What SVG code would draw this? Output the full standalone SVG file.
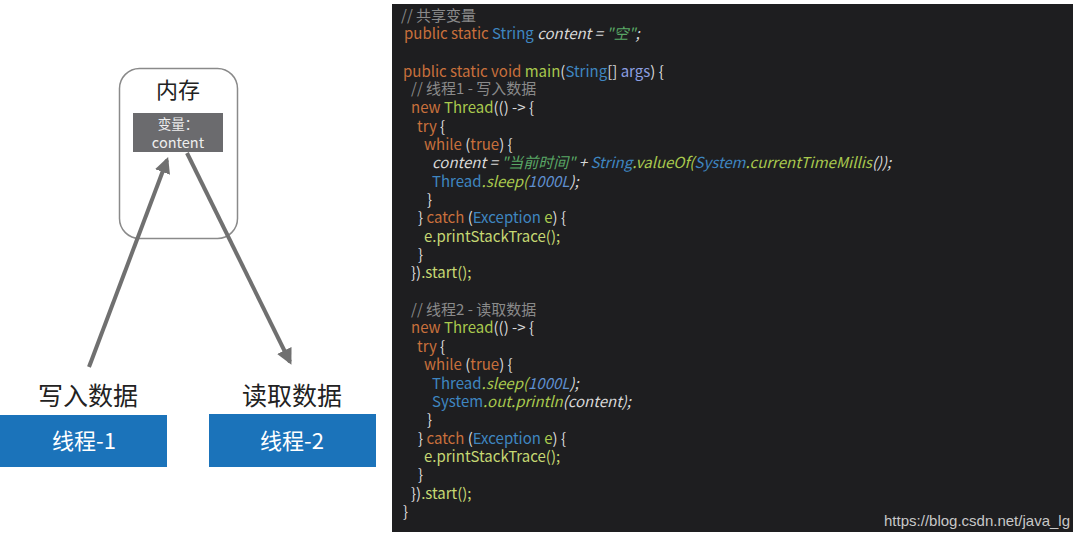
<svg xmlns="http://www.w3.org/2000/svg" width="1080" height="539" viewBox="0 0 1080 539">
<defs>
<style>
.cn{font-family:"Noto Sans CJK SC","Noto Sans",sans-serif}
.code{font-family:"Noto Sans CJK SC","Noto Sans",sans-serif;font-size:15px;fill:#d8d8d8}
.cm{fill:#8a8a8a}
.kw{fill:#c8703c}
.ty{fill:#3f86c0}
.fn{fill:#a9c94e}
.me{fill:#c6d873}
.st{fill:#5aa866}
.ar{fill:#8c9ee0}
.it{font-style:italic}
.num{fill:#5f8fcf}
</style>
<marker id="ah" viewBox="0 0 10 10" refX="8" refY="5" markerWidth="4" markerHeight="4" orient="auto" markerUnits="strokeWidth">
<path d="M0,0 L10,5 L0,10 z" fill="#707070"/>
</marker>
</defs>
<rect width="1080" height="539" fill="#ffffff"/>

<g id="memory">
<rect x="119.5" y="68.5" width="118" height="170" rx="20" fill="#ffffff" stroke="#8a8a8a" stroke-width="1.5"/>
<text x="178" y="98" class="cn" font-size="22" fill="#222" text-anchor="middle">内存</text>
</g>
<g id="variable">
<rect x="133" y="113" width="90" height="39" fill="#6b6b6e"/>
<text x="178" y="129" class="cn" font-size="13.5" fill="#eeeeee" text-anchor="middle">变量：</text>
<text x="178" y="147.5" class="cn" font-size="14.5" fill="#eeeeee" text-anchor="middle">content</text>
</g>

<g id="connectors" stroke="#707070" stroke-width="4" fill="none">
<line x1="89" y1="367" x2="167" y2="160" marker-end="url(#ah)"/>
<line x1="187" y1="153" x2="290" y2="362" marker-end="url(#ah)"/>
</g>

<g id="thread1">
<text x="88" y="405" class="cn" font-size="25" fill="#222" text-anchor="middle">写入数据</text>
<rect x="0" y="415" width="167" height="52" fill="#1b73ba"/>
<text x="84" y="449" class="cn" font-size="22" fill="#ffffff" text-anchor="middle">线程-1</text>
</g>
<g id="thread2">
<text x="292" y="405" class="cn" font-size="25" fill="#222" text-anchor="middle">读取数据</text>
<rect x="209" y="414" width="167" height="53" fill="#1b73ba"/>
<text x="292" y="449" class="cn" font-size="22" fill="#ffffff" text-anchor="middle">线程-2</text>
</g>

<g id="code">
<rect x="392" y="4" width="681" height="528" fill="#1e1e20"/>
<text class="code cm" x="401" y="21">// 共享变量</text>
<text class="code" x="404" y="39"><tspan class="kw">public static </tspan><tspan class="ty">String </tspan><tspan class="it">content = </tspan><tspan class="st it">"空"</tspan><tspan class="it">;</tspan></text>
<text class="code" x="403" y="77"><tspan class="kw">public static void </tspan><tspan class="fn">main</tspan>(<tspan class="ty">String</tspan>[] <tspan class="ar">args</tspan>) {</text>
<text class="code cm" x="411" y="94">// 线程1 - 写入数据</text>
<text class="code" x="411" y="113"><tspan class="kw">new </tspan><tspan class="fn">Thread</tspan>(() -&gt; {</text>
<text class="code" x="417" y="132"><tspan class="kw">try </tspan>{</text>
<text class="code" x="424" y="150"><tspan class="kw">while </tspan>(<tspan class="kw">true</tspan>) {</text>
<text class="code it" x="432" y="168">content = <tspan class="st">"当前时间"</tspan> + <tspan class="ty">String</tspan><tspan class="fn">.valueOf(</tspan><tspan class="ty">System</tspan><tspan class="fn">.currentTimeMillis</tspan>());</text>
<text class="code" x="432" y="187"><tspan class="ty">Thread</tspan><tspan class="fn it">.sleep(</tspan><tspan class="num it">1000L</tspan><tspan class="it">);</tspan></text>
<text class="code" x="427" y="205">}</text>
<text class="code" x="418" y="223">} <tspan class="kw">catch </tspan>(<tspan class="ty">Exception </tspan><tspan class="fn">e</tspan>) {</text>
<text class="code me" x="424" y="242">e.printStackTrace();</text>
<text class="code" x="418" y="260">}</text>
<text class="code" x="411" y="278">})<tspan class="me">.start();</tspan></text>
<text class="code cm" x="411" y="315">// 线程2 - 读取数据</text>
<text class="code" x="411" y="333"><tspan class="kw">new </tspan><tspan class="fn">Thread</tspan>(() -&gt; {</text>
<text class="code" x="417" y="352"><tspan class="kw">try </tspan>{</text>
<text class="code" x="424" y="370"><tspan class="kw">while </tspan>(<tspan class="kw">true</tspan>) {</text>
<text class="code" x="432" y="389"><tspan class="ty">Thread</tspan><tspan class="fn it">.sleep(</tspan><tspan class="num it">1000L</tspan><tspan class="it">);</tspan></text>
<text class="code" x="432" y="407"><tspan class="ty">System</tspan><tspan class="fn it">.out.println</tspan><tspan class="it">(content);</tspan></text>
<text class="code" x="427" y="425">}</text>
<text class="code" x="418" y="444">} <tspan class="kw">catch </tspan>(<tspan class="ty">Exception </tspan><tspan class="fn">e</tspan>) {</text>
<text class="code me" x="424" y="462">e.printStackTrace();</text>
<text class="code" x="418" y="480">}</text>
<text class="code" x="411" y="499">})<tspan class="me">.start();</tspan></text>
<text class="code" x="403" y="517">}</text>
<text x="1070" y="526" font-family="Liberation Sans, Arial, sans-serif" font-size="15" fill="#c8c8c8" text-anchor="end">https://blog.csdn.net/java_lg</text>
</g>
</svg>
